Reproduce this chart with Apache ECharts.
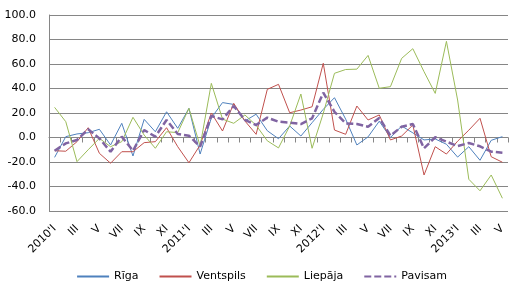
<!DOCTYPE html>
<html>
<head>
<meta charset="utf-8">
<script src="https://cdn.jsdelivr.net/npm/echarts@6/dist/echarts.min.js"></script>
<style>
  html, body { margin: 0; padding: 0; background: #fff; }
  #chart { width: 523px; height: 301px; }
</style>
</head>
<body>
<div id="chart"></div>
<script>
// mēneši 2010'I .. 2013'V
const romans = ['I', 'II', 'III', 'IV', 'V', 'VI', 'VII', 'VIII', 'IX', 'X', 'XI', 'XII']
const years = [2010, 2011, 2012, 2013]
const months = []
years.forEach(y => romans.forEach((m, i) => {
  if (y === 2013 && i > 4) return
  months.push(i === 0 ? y + "'" + m : m)
}))

const riga = [
  -16.2, 0.7, 2.9, 3.9, 6.7, -6.1, 11.6, -15.1, 14.8, 4.7, 21, 7.5,
  23.8, -13.5, 16, 28.5, 27, 13.5, 19, 5.5, -1, 9.4, 1.2, 12.1,
  23, 32.5, 15, -6.1, 0.5, 13.3, 0, 9.4, 3.8, -2, -1.2, -5.5, -16, -7.5, -18.6, -2.3, 0.7
]
const ventspils = [
  -10.8, -11.2, -3.4, 8, -12.9, -21, -11.6, -11.6, -4.2, -3.4, 8, -7.5,
  -20.6, -6.1, 20, 5.3, 27.9, 13.5, 2.6, 39.3, 43.4, 20.2, 22.4, 25.1,
  60.6, 6.1, 2.6, 25.7, 14.3, 18.4, -2, 1.2, 10.2, -30.6, -7.5, -13.5, -3, 6, 15.7, -15.7, -20.2
]
const liepaja = [
  24.6, 12.9, -19.7, -10, -0.7, -7.5, -3.4, 16.5, 2, -8.8, 4.7, 4,
  23.8, -7, 44.2, 15, 11.6, 18.4, 10, -2.7, -8.5, 9.4, 35.5, -8.8,
  19.7, 52.4, 55.5, 55.8, 67, 40.2, 41.5, 64.6, 72.5, 53.7, 36, 78.5, 30.6, -34.1, -43.5, -30.6, -49.6
]
const pavisam = [
  -10.8, -4.8, -2, 6.7, -0.7, -11.6, 0.7, -10.8, 6.1, 0.7, 14.3, 2.9,
  1.5, -7.5, 17.6, 14.8, 25.7, 14.3, 10.2, 16.2, 12.9, 12.1, 11, 15.7,
  36.6, 21, 11.5, 11, 8.8, 16, 1.5, 8.8, 11, -8.8, 0.2, -3.4, -7, -4.5, -7.2, -11.6, -12.4
]

const font = 'DejaVu Sans'
const chart = echarts.init(document.getElementById('chart'))

function line(name, data, color, width, dashed) {
  return {
    name,
    type: 'line',
    data,
    symbol: 'none',
    xAxisIndex: 0,
    lineStyle: { color, width, type: dashed ? [7, 3] : 'solid' },
    itemStyle: { color },
    z: dashed ? 3 : 2
  }
}

chart.setOption({
  animation: false,
  textStyle: { fontFamily: font },
  grid: { left: 49, right: 15, top: 15, bottom: 90, containLabel: false },
  legend: {
    bottom: 14,
    left: 'center',
    itemWidth: 32,
    itemHeight: 8,
    itemGap: 20,
    itemStyle: { opacity: 0 },
    textStyle: { fontFamily: font, fontSize: 11, color: '#000' },
    data: ['Rīga', 'Ventspils', 'Liepāja', 'Pavisam']
  },
  xAxis: [
    {
      type: 'category',
      data: months,
      boundaryGap: true,
      axisLine: { onZero: true, lineStyle: { color: '#868686', width: 1 } },
      axisTick: { show: true, interval: 0, length: 5, lineStyle: { color: '#868686' } },
      axisLabel: { show: false },
      splitLine: { show: false }
    },
    {
      type: 'category',
      data: months,
      position: 'bottom',
      boundaryGap: true,
      axisLine: { show: false, onZero: false },
      axisTick: { show: false },
      axisLabel: {
        interval: 1,
        rotate: 45,
        margin: 16,
        fontFamily: font,
        fontSize: 11,
        color: '#000'
      }
    }
  ],
  yAxis: {
    type: 'value',
    min: -60,
    max: 100,
    interval: 20,
    axisLine: { show: true, lineStyle: { color: '#868686' } },
    axisTick: { show: false },
    axisLabel: {
      margin: 13,
      fontFamily: font,
      fontSize: 11,
      color: '#000',
      formatter: v => v.toFixed(1)
    },
    splitLine: { lineStyle: { color: '#868686', width: 1 } }
  },
  series: [
    line('Rīga', riga, '#4F81BD', 1),
    line('Ventspils', ventspils, '#C0504D', 1),
    line('Liepāja', liepaja, '#9BBB59', 1),
    line('Pavisam', pavisam, '#8064A2', 2.5, true)
  ]
})
</script>
</body>
</html>
